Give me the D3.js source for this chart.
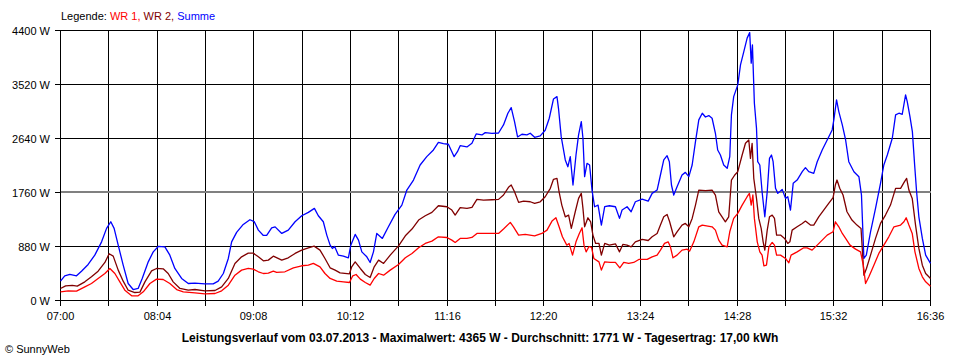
<!DOCTYPE html>
<html>
<head>
<meta charset="utf-8">
<script src="https://cdn.jsdelivr.net/npm/d3@7"></script>
<style>
  html, body { margin: 0; padding: 0; background: #ffffff; }
  svg { display: block; }
  text { font-family: "Liberation Sans", Arial, sans-serif; }
</style>
</head>
<body>
<svg id="chart" width="960" height="360"></svg>
<script>
// ---------- DATA (minutes after 07:00, watts) ----------
const xTickLabels = ["07:00","08:04","09:08","10:12","11:16","12:20","13:24","14:28","15:32","16:36"];
const yTickValues = [0, 880, 1760, 2640, 3520, 4400];
const yTickLabels = ["0 W", "880 W", "1760 W", "2640 W", "3520 W", "4400 W"];
const seriesNames = ["WR 1", "WR 2", "Summe"];
const averageValue = 1771;
const titleText = "Leistungsverlauf vom 03.07.2013 - Maximalwert: 4365 W - Durchschnitt: 1771 W - Tagesertrag: 17,00 kWh";

const sumMinutes = [0,2.8,6.2,10.6,13.9,18.3,22.7,27.2,30.5,33.3,35.5,38.2,41.5,44.8,48.1,51.4,54.1,58.1,61.4,64.7,69.1,72.4,75.7,80.2,84.6,89,95.6,101.1,104.4,107.8,111.1,113.3,116.6,121,125.4,128.3,131,134.3,136.5,139.8,142.1,
  146.5,150.8,155.3,159.7,164.1,168.1,170.7,174,176.3,178.5,180,181.5,184,187.3,190.6,192.2,195.1,197.3,199.5,202.8,205,207.2,209.4,213.1,217.1,221.5,226,229.3,233.7,238.1,242.5,246.9,250.2,253.5,256.8,259.1,260.6,262.8,264.6,269.1,272.4,275.2,279,281.2,
  285.6,290,293.3,296.2,298.4,300.6,302.6,305.5,308.8,311,313.9,317.6,320.9,323.6,326.4,328.7,329.7,331.5,334.2,335.9,337.5,339.3,341.3,343,344.8,345.9,347,348.6,350.3,351.9,353.6,355.9,358.1,360.3,363.4,367.4,370.1,371.8,375.1,377.8,380.6,385.1,389.1,391.7,395,397.2,399.4,401.6,403.1,404.5,406,408.2,411.5,413.7,416,418.2,420.4,422.6,424.9,
  427,429.2,431.4,433.6,435.1,436.9,439.1,441.4,443.1,444.2,445.7,448.4,450.2,452.4,454.6,456.3,457.3,458.1,459.4,460.8,461.6,463,464.5,466.3,467.9,469.4,470.7,471.8,473.4,474.9,477.8,480,481.5,483.3,485.1,487.7,491.1,493.2,495.4,498.7,501,504.3,507.6,510.9,512,513.8,515.3,517.6,519.8,521.9,525.3,528.6,530.3,531.9,533.5,536.3,539.6,542.9,545.1,547.4,550.7,552.9,555.1,557.3,559.5,560.6,562.4,564,565.5,566.8,568.3,570.6,572.8,576];
const sumValues = [315,402,424,402,478,587,739,956,1175,1283,1175,902,576,277,179,196,359,630,793,881,875,739,522,359,277,282,271,271,315,440,685,956,1110,1240,1316,1284,1147,1060,1060,1185,1200,
  1093,1147,1283,1381,1436,1501,1381,1283,1066,902,848,880,739,723,695,902,1077,984,793,712,620,793,1093,1012,1201,1403,1555,1800,1963,2208,2344,2453,2578,2557,2546,2425,2344,2425,2523,2503,2562,2714,2698,2736,
  2725,2730,2861,3052,3143,2915,2665,2709,2698,2725,2660,2682,2774,2970,3285,3323,3132,2670,2290,2180,2344,1882,2371,2698,2915,2644,2018,2236,2208,1800,1528,1555,1229,1528,1544,1528,1338,1474,1528,1446,1609,1653,1620,1746,1800,2045,2290,2360,2262,1882,1719,1855,2045,2088,2018,2208,2589,2943,3052,
  2990,3013,2970,2725,2453,2371,2208,2154,2344,3024,3323,3514,3840,4057,4276,4365,3868,4166,3215,2807,2262,2208,1772,1364,1772,2317,2371,2262,1828,1746,1811,1664,1691,1474,1909,1963,2099,2164,2099,2072,2262,2453,2616,2779,2943,3269,3078,2861,2616,2262,2099,2018,1719,685,739,1120,1501,1909,2208,2371,2644,3024,3052,3035,3351,3242,2997,2752,2208,1772,1364,1012,739,604];

const wr2Minutes = [0,3.4,7.8,11.1,16.1,20.5,24.9,29.4,32.2,34.9,38.2,41.5,44.8,49.2,52.6,55.9,60.3,63.6,68,71.3,74.6,79.1,84.6,89,95.6,102.3,106.7,111.1,115.5,119.9,124.3,127.6,131,134.3,137.6,140.9,
  146.5,150.8,155.3,159.7,164.1,167.9,171.8,175.1,178.5,181.8,185.1,191.3,192.8,195.1,198.5,201.8,205,207.7,210.6,213.9,218.3,223.8,228.3,232.7,237.1,241.5,245.9,250.2,255.8,259.1,261.3,264.6,269.1,272.4,275.7,280.1,
  285.6,290,293.3,296.6,298.4,300.6,303.3,306.6,311,313.9,317.6,320.9,324.3,326.4,328.7,330.1,331.9,334.2,336.4,338.2,340.8,343,344.8,345.9,347,349.2,351,352.5,354.3,356.5,358.1,360.3,363.4,367.4,370.1,372.3,375.1,377.8,380.6,385.1,389.1,391.7,395,397.2,399.4,401.6,403.3,405.1,406,408.2,411.5,413.7,416,418.2,420.4,422.6,
  427,431.4,433.6,435.8,438,440.2,442.4,444.2,446.4,448.4,451.3,453.5,455.7,456.8,457.9,459,460.8,462.3,463.9,465.2,466.3,467.9,469.4,471.2,472.7,474.1,476.7,479.4,481.5,482.9,484.4,487.7,491.1,493.2,496.5,498.7,502,505.3,508.6,511.5,513,514.1,515.9,518.1,520.7,524,527.3,530,531.9,533.6,536.3,539.6,542.9,546.2,549.5,552.9,556.2,558.8,560.2,561.7,563.9,566.1,568.3,570.6,572.8,576];
const wr2Values = [196,239,245,234,304,386,478,620,761,723,495,315,168,130,136,304,484,522,517,440,304,196,168,179,158,163,223,359,604,712,772,772,712,647,658,723,
  658,696,767,821,859,886,821,685,533,495,451,435,549,630,522,424,375,549,658,604,739,891,1054,1164,1311,1381,1436,1544,1528,1474,1392,1512,1501,1517,1648,1637,
  1642,1648,1719,1844,1882,1772,1599,1620,1609,1582,1609,1691,1828,1975,1991,1772,1555,1364,1392,1175,1446,1664,1746,1501,1201,1348,1283,1066,930,930,739,930,902,924,793,913,902,875,956,995,978,1038,1093,1229,1364,1403,1283,1120,1038,1120,1229,1256,1201,1338,1555,1800,
  1790,1800,1719,1446,1364,1283,1364,1963,2045,2099,2371,2562,2616,2317,2562,1991,1664,1338,1175,956,821,1147,1364,1392,1338,1066,1066,1012,930,956,1147,1201,1256,1294,1229,1229,1364,1474,1582,1675,1882,1963,1828,1719,1446,1311,1229,1175,413,522,739,1012,1256,1392,1555,1828,1828,1936,1991,1800,1664,1229,848,576,440,359];

const wr1Minutes = [0,5.1,10.6,16.1,20.5,24.9,29.4,32.7,36,39.3,42.6,47.1,51.4,54.8,59.2,63.6,68,72.4,76.9,81.3,89,95.6,102.3,106.7,111.1,115.5,119.9,124.3,127.6,131,134.3,137.6,140.9,
  143.1,148.6,154.2,159.7,164.1,167.4,171.8,175.1,178.5,182.9,187.3,191.3,193.5,195.7,198.5,201.8,205,207.7,210.6,213.9,218.3,223.8,228.3,232.7,237.1,241.5,245.9,250.2,255.8,259.1,261.3,264.6,269.1,272.4,275.7,284.5,
  290,293.3,297.8,299.9,303.3,307.7,313.9,318.7,322.1,325.4,328,330.1,332.3,335.2,336.7,339,341.3,343.5,345.3,346.6,348,349.9,351.6,353.1,356.5,358.1,360.3,364,367.4,370.3,372.9,376.2,379.5,382.9,388.4,391.7,395,397.2,399.9,402.3,403.8,405.5,408.2,411.5,414.9,416.5,419.3,422.6,424.9,
  431.4,433.6,435.8,438,441.4,443.1,445.7,448.4,451.3,454.6,456.1,457.3,458.4,459.4,461.3,463,464.5,465.7,467.4,469,471.2,472.7,474.1,476.7,480,482.2,483.7,487.7,492.1,494.3,497.6,501,504.3,507.6,511.5,513,515.3,517.6,519.8,522.7,526.4,529.7,531.5,533,535.2,538.5,541.8,545.1,548.4,551.8,556.2,558.4,559.9,561.7,563.9,565.7,568.3,570.6,572.8,576];
const wr1Values = [141,158,152,223,277,359,440,522,440,304,168,76,76,141,277,348,342,277,179,141,125,109,114,158,250,413,495,522,511,468,440,446,478,
  457,468,533,566,576,604,549,440,359,315,304,293,402,424,348,293,250,359,440,413,495,587,696,767,859,930,967,1038,1027,984,946,1012,1012,1027,1093,1093,
  1093,1164,1273,1201,1066,1077,1054,1093,1147,1294,1348,1201,1038,902,930,739,956,1093,1185,902,793,880,864,685,630,495,630,620,620,533,620,604,620,669,669,712,739,821,930,956,875,696,739,821,837,804,956,1201,1229,
  1201,1147,984,902,875,1120,1338,1419,1555,1691,1746,1555,1719,1338,956,793,739,565,576,875,946,902,739,739,685,614,739,793,859,859,821,902,984,1066,1120,1283,1201,1093,1012,902,837,793,576,277,386,576,767,902,1038,1201,1229,1283,1348,1229,1093,793,522,386,304,234];

// ---------- CHECK ----------
[[sumMinutes, sumValues, "Summe"], [wr2Minutes, wr2Values, "WR2"], [wr1Minutes, wr1Values, "WR1"]].forEach(([a, b, n]) => {
  if (a.length !== b.length) throw new Error(n + " length mismatch " + a.length + " vs " + b.length);
});

// ---------- DRAW ----------
const svg = d3.select("#chart");
const totalMinutes = 576;
const x = d3.scaleLinear().domain([0, totalMinutes]).range([60, 930]);
const y = d3.scaleLinear().domain([0, 4400]).range([300, 30]);
const px = v => Math.round(v) + 0.5;

svg.append("rect").attr("width", 960).attr("height", 360).attr("fill", "#ffffff");

const tickMinutes = d3.range(0, totalMinutes + 1, 32);
const grid = svg.append("g").attr("stroke", "#000").attr("stroke-width", 1).attr("shape-rendering", "crispEdges");

// vertical gridlines + ticks
grid.selectAll("line.v").data(tickMinutes).join("line")
  .attr("x1", d => px(x(d))).attr("x2", d => px(x(d)))
  .attr("y1", px(y(4400))).attr("y2", px(y(0)) + 5);

// horizontal gridlines + ticks
grid.selectAll("line.h").data(yTickValues).join("line")
  .attr("x1", px(x(0)) - 6).attr("x2", px(x(totalMinutes)))
  .attr("y1", d => px(y(d))).attr("y2", d => px(y(d)));

// average line (gray)
svg.append("line")
  .attr("x1", px(x(0))).attr("x2", px(x(totalMinutes)))
  .attr("y1", Math.round(y(averageValue)) + 1).attr("y2", Math.round(y(averageValue)) + 1)
  .attr("stroke", "#808080").attr("stroke-width", 2).attr("shape-rendering", "crispEdges");

// x tick labels (every second tick)
svg.append("g").selectAll("text").data(xTickLabels).join("text")
  .attr("x", (d, i) => px(x(i * 64)))
  .attr("y", 320)
  .attr("text-anchor", "middle")
  .attr("font-size", 11)
  .attr("fill", "#000")
  .text(d => d);

// y tick labels
svg.append("g").selectAll("text").data(yTickValues).join("text")
  .attr("x", 50)
  .attr("y", d => px(y(d)) + 4)
  .attr("text-anchor", "end")
  .attr("font-size", 11)
  .attr("fill", "#000")
  .text((d, i) => yTickLabels[i]);

// series
const series = [
  { name: seriesNames[2], t: sumMinutes, v: sumValues, color: "#0000ff" },
  { name: seriesNames[1], t: wr2Minutes, v: wr2Values, color: "#800000" },
  { name: seriesNames[0], t: wr1Minutes, v: wr1Values, color: "#ff0000" }
];
const line = d3.line().x(d => x(d[0]) + 0.5).y(d => y(d[1]) + 0.5);
svg.append("g").selectAll("path").data(series).join("path")
  .attr("d", s => line(s.t.map((t, i) => [t, s.v[i]])))
  .attr("fill", "none")
  .attr("stroke", s => s.color)
  .attr("stroke-width", 1.3)
  .attr("stroke-linejoin", "round");

// legend
const legend = svg.append("text").attr("x", 61).attr("y", 20).attr("font-size", 11);
legend.append("tspan").attr("fill", "#000").text("Legende: ");
legend.append("tspan").attr("fill", "#ff0000").text(seriesNames[0] + ", ");
legend.append("tspan").attr("fill", "#800000").text(seriesNames[1] + ", ");
legend.append("tspan").attr("fill", "#0000ff").text(seriesNames[2]);

// title
svg.append("text")
  .attr("x", 480).attr("y", 342)
  .attr("text-anchor", "middle")
  .attr("font-size", 12).attr("font-weight", "bold")
  .attr("fill", "#000")
  .text(titleText);

// copyright
svg.append("text")
  .attr("x", 5).attr("y", 353)
  .attr("font-size", 11)
  .attr("fill", "#000")
  .text("© SunnyWeb");
</script>
</body>
</html>
